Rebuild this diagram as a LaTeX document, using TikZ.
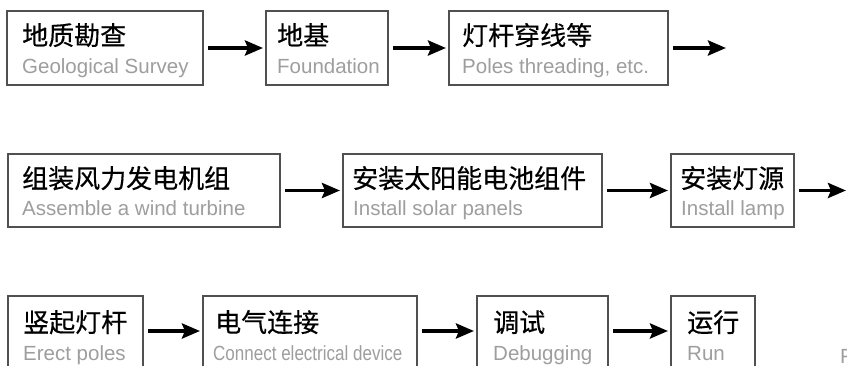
\documentclass[tikz,border=0pt]{standalone}
\usepackage{fontspec}
\setmainfont{Liberation Sans}
\newfontfamily\cjk{Noto Sans CJK SC}[FakeBold=0.4]
\usetikzlibrary{arrows.meta}
\definecolor{engray}{RGB}{158,158,158}
\definecolor{boxline}{RGB}{80,80,80}
\begin{document}
\begin{tikzpicture}[x=1pt,y=-1pt,
  stepbox/.style={draw=boxline,line width=1.2pt,minimum height=74pt,anchor=north west,inner sep=0pt,outer sep=0pt},
  zh/.style={anchor=base west,inner sep=0pt,font=\cjk\fontsize{26}{27}\selectfont},
  en/.style={anchor=base west,inner sep=0pt,text=engray,font=\fontsize{20.5}{21}\selectfont},
  flow/.style={line width=3.8pt,-{Stealth[length=18pt,width=15pt,inset=3pt]},shorten <=5pt,shorten >=3pt}]
\useasboundingbox (0,0) rectangle (847,366);
\clip (0,0) rectangle (847,366);
\fill[white] (0,0) rectangle (847,366);

% row 1
\node[stepbox,minimum width=196pt] (b1) at (7,11) {};
\node[stepbox,minimum width=122pt] (b2) at (266,11) {};
\node[stepbox,minimum width=219pt] (b3) at (449,11) {};
\node[zh] (z1) at ([shift={(15,34)}]b1.north west) {地质勘查};
\node[en] (e1) at ([shift={(15,62.5)}]b1.north west) {Geological Survey};
\node[zh] (z2) at ([shift={(11,34)}]b2.north west) {地基};
\node[en] (e2) at ([shift={(11,62.5)}]b2.north west) {Foundation};
\node[zh] (z3) at ([shift={(13,34)}]b3.north west) {灯杆穿线等};
\node[en] (e3) at ([shift={(13,62.5)}]b3.north west) {Poles threading, etc.};
\coordinate (r1end) at (729,48);

% row 2
\node[stepbox,minimum width=272pt,minimum height=73pt] (b4) at (8,154) {};
\node[stepbox,minimum width=259pt,minimum height=73pt] (b5) at (343,154) {};
\node[stepbox,minimum width=123pt,minimum height=73pt] (b6) at (671,154) {};
\node[zh] (z4) at ([shift={(14,34)}]b4.north west) {组装风力发电机组};
\node[en] (e4) at ([shift={(14,62)}]b4.north west) {Assemble a wind turbine};
\node[zh] (z5) at ([shift={(9,34)}]b5.north west) {安装太阳能电池组件};
\node[en] (e5) at ([shift={(10,62)}]b5.north west) {Install solar panels};
\node[zh] (z6) at ([shift={(9,34)}]b6.north west) {安装灯源};
\node[en] (e6) at ([shift={(10,62)}]b6.north west) {Install lamp};
\coordinate (r2end) at (849,190.5);

% row 3
\node[stepbox,minimum width=135pt] (b7) at (8,296) {};
\node[stepbox,minimum width=214pt] (b8) at (203,296) {};
\node[stepbox,minimum width=131pt] (b9) at (477,296) {};
\node[stepbox,minimum width=84pt] (b10) at (671,296) {};
\node[zh] (z7) at ([shift={(15,36)}]b7.north west) {竖起灯杆};
\node[en] (e7) at ([shift={(15,64)}]b7.north west) {Erect poles};
\node[zh] (z8) at ([shift={(12,36)}]b8.north west) {电气连接};
\node[en] (e8) at ([shift={(10,64)}]b8.north west) {\scalebox{0.83}[1]{Connect electrical device}};
\node[zh] (z9) at ([shift={(16,36)}]b9.north west) {调试};
\node[en] (e9) at ([shift={(16,64)}]b9.north west) {Debugging};
\node[zh] (z10) at ([shift={(16,36)}]b10.north west) {运行};
\node[en] (e10) at ([shift={(16,64)}]b10.north west) {Run};
\node[en] (cut) at (840,363) {F};

% arrows
\draw[flow] (b1.east) -- (b2.west);
\draw[flow] (b2.east) -- (b3.west);
\draw[flow] (b3.east) -- (r1end);
\draw[flow] (b4.east) -- (b5.west);
\draw[flow] (b5.east) -- (b6.west);
\draw[flow] (b6.east) -- (r2end);
\draw[flow] ([yshift=2pt]b7.east) -- ([yshift=2pt]b8.west);
\draw[flow] ([yshift=2pt]b8.east) -- ([yshift=2pt]b9.west);
\draw[flow] ([yshift=2pt]b9.east) -- ([yshift=2pt]b10.west);
\end{tikzpicture}
\end{document}
